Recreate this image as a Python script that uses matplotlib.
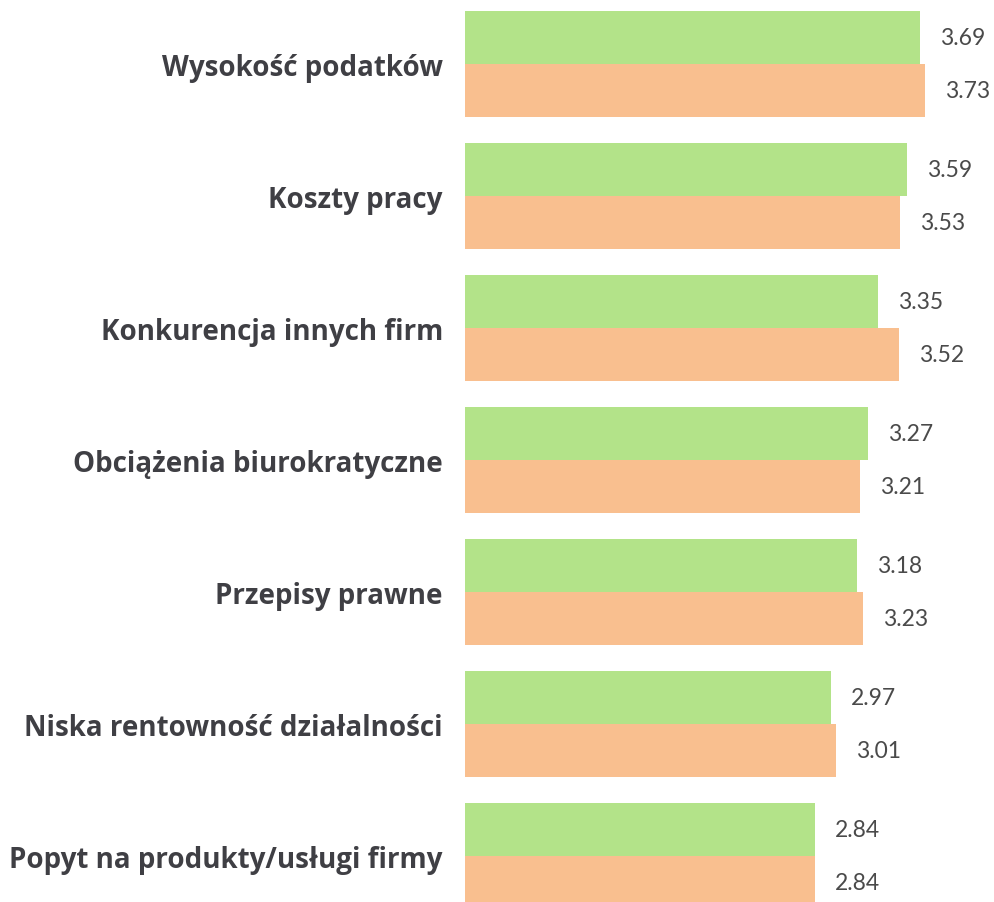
import matplotlib
matplotlib.use("Agg")
import matplotlib.pyplot as plt
import numpy as np

categories = [
    "Wysokość podatków",
    "Koszty pracy",
    "Konkurencja innych firm",
    "Obciążenia biurokratyczne",
    "Przepisy prawne",
    "Niska rentowność działalności",
    "Popyt na produkty/usługi firmy",
]
series_green = [3.69, 3.59, 3.35, 3.27, 3.18, 2.97, 2.84]
series_orange = [3.73, 3.53, 3.52, 3.21, 3.23, 3.01, 2.84]
value_labels_green = ["3.69", "3.59", "3.35", "3.27", "3.18", "2.97", "2.84"]
value_labels_orange = ["3.73", "3.53", "3.52", "3.21", "3.23", "3.01", "2.84"]

GREEN = "#b3e389"
ORANGE = "#f9bf8f"
LABEL_COLOR = "#3f3f44"
VALUE_COLOR = "#4a4a4a"

W, H = 994, 903
fig = plt.figure(figsize=(W / 100, H / 100), dpi=100)
ax_left = 465 / W
ax = fig.add_axes([ax_left, 0, 1 - ax_left, 1])

px_per_unit = 123.2
ax.set_xlim(0, (W - 465) / px_per_unit)
group_px = 132.0
first_center = 65.0
ax.set_ylim((H - first_center) / group_px, -first_center / group_px)

y = np.arange(len(categories))
h = 53.0 / group_px
ax.barh(y - h / 2, series_green, height=h, color=GREEN, edgecolor="none")
ax.barh(y + h / 2, series_orange, height=h, color=ORANGE, edgecolor="none")

off = 20 / px_per_unit
for i in range(len(categories)):
    ax.text(series_green[i] + off, y[i] - h / 2, value_labels_green[i],
            va="center", ha="left", fontsize=16.5, color=VALUE_COLOR, family="Lato")
    ax.text(series_orange[i] + off, y[i] + h / 2, value_labels_orange[i],
            va="center", ha="left", fontsize=16.5, color=VALUE_COLOR, family="Lato")

ax.set_yticks(y)
ax.set_yticklabels(categories, fontsize=20, fontweight="bold", color=LABEL_COLOR, family="Open Sans")
ax.tick_params(axis="y", length=0, pad=16)
ax.set_xticks([])
for s in ax.spines.values():
    s.set_visible(False)

fig.savefig("out.png", dpi=100, facecolor="white")
